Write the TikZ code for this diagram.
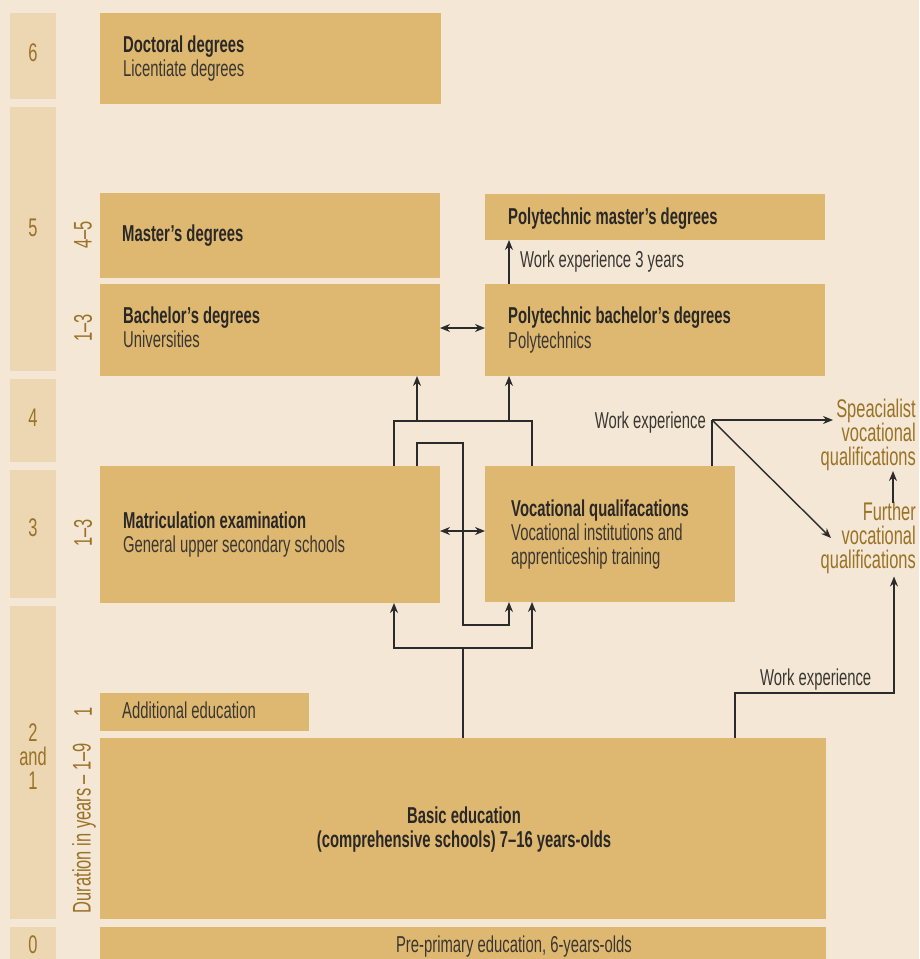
\documentclass[tikz,border=0pt]{standalone}
\usepackage{fontspec}
\setmainfont[FakeStretch=0.645]{Liberation Sans}
\usetikzlibrary{arrows.meta}
\definecolor{bgc}{HTML}{F4E7D5}
\definecolor{colc}{HTML}{ECD7B2}
\definecolor{boxc}{HTML}{DEB870}
\definecolor{goldc}{HTML}{9A7226}
\definecolor{darkc}{HTML}{2A2826}
\definecolor{txtc}{HTML}{3A3632}
\definecolor{linec}{HTML}{2B2B2B}
\begin{document}
\begin{tikzpicture}[x=1pt,y=-1pt,
  colbox/.style={fill=colc,draw=none,anchor=north west,inner sep=0pt,outer sep=0pt},
  box/.style={fill=boxc,draw=none,anchor=north west,inner sep=0pt,outer sep=0pt},
  hd/.style={font=\fontsize{23}{24}\selectfont\bfseries,text=darkc,inner sep=0pt,anchor=base west},
  tx/.style={font=\fontsize{23}{24}\selectfont,text=txtc,inner sep=0pt,anchor=base west},
  gl/.style={font=\fontsize{25.5}{24}\selectfont,text=goldc,inner sep=0pt},
  ln/.style={draw=linec,line width=1.4pt},
  arr/.style={ln,-{Stealth[length=10pt,width=8pt]}},
  darr/.style={ln,{Stealth[length=10pt,width=8pt]}-{Stealth[length=10pt,width=8pt]}}]
\fill[bgc] (0,0) rectangle (919,959);
\useasboundingbox (0,0) rectangle (919,959);
% left column
\node[colbox,minimum width=46pt,minimum height=86pt] (c6) at (10,13) {};
\node[colbox,minimum width=46pt,minimum height=264pt] (c5) at (10,107) {};
\node[colbox,minimum width=46pt,minimum height=83pt] (c4) at (10,379) {};
\node[colbox,minimum width=46pt,minimum height=128pt] (c3) at (10,470) {};
\node[colbox,minimum width=46pt,minimum height=313pt] (c21) at (10,606) {};
\node[colbox,minimum width=46pt,minimum height=32pt] (c0) at (10,927) {};
\node[gl] (n6) at (33,53) {6};
\node[gl] (n5) at (33,228) {5};
\node[gl] (n4) at (33,418) {4};
\node[gl] (n3) at (33,528) {3};
\node[gl,align=center] (n21) at (33,757) {2\\and\\1};
\node[gl] (n0) at (33,945) {0};
% durations
\node[gl,rotate=90] (d45) at (83,235) {4–5};
\node[gl,rotate=90] (d13a) at (83,328) {1–3};
\node[gl,rotate=90] (d13b) at (83,533) {1–3};
\node[gl,rotate=90] (d1) at (83,712) {1};
\node[gl,rotate=90] (ddur) at (84,828) {Duration in years – 1–9};
% boxes
\node[box,minimum width=341pt,minimum height=91pt] (doc) at (100,13) {};
\node[box,minimum width=340pt,minimum height=85pt] (mast) at (100,193) {};
\node[box,minimum width=340pt,minimum height=92pt] (bach) at (100,284) {};
\node[box,minimum width=340pt,minimum height=46pt] (pmast) at (485,194) {};
\node[box,minimum width=340pt,minimum height=92pt] (pbach) at (485,284) {};
\node[box,minimum width=340pt,minimum height=137pt] (matric) at (100,466) {};
\node[box,minimum width=250pt,minimum height=136pt] (voc) at (485,466) {};
\node[box,minimum width=209pt,minimum height=38pt] (add) at (100,693) {};
\node[box,minimum width=726pt,minimum height=181pt] (basic) at (100,738) {};
\node[box,minimum width=726pt,minimum height=32pt] (pre) at (100,927) {};
% texts
\node[hd] (tdoc) at (123,52) {Doctoral degrees};
\node[tx] (tlic) at (123,76) {Licentiate degrees};
\node[hd] (tmast) at (122,241) {Master’s degrees};
\node[hd] (tbach) at (123,323) {Bachelor’s degrees};
\node[tx] (tuni) at (123,347) {Universities};
\node[hd] (tpmast) at (508,224) {Polytechnic master’s degrees};
\node[hd] (tpbach) at (508,323) {Polytechnic bachelor’s degrees};
\node[tx] (tpoly) at (508,348) {Polytechnics};
\node[tx] (twe3) at (520,267) {Work experience 3 years};
\node[hd] (tvoc) at (511,516) {Vocational qualifacations};
\node[tx] (tvoc2) at (511,540) {Vocational institutions and};
\node[tx] (tvoc3) at (511,564) {apprenticeship training};
\node[hd] (tmat) at (123,528) {Matriculation examination};
\node[tx] (tmat2) at (123,552) {General upper secondary schools};
\node[tx] (tadd) at (122,718) {Additional education};
\node[hd,anchor=base] (tbas) at (464,823) {Basic education};
\node[hd,anchor=base] (tbas2) at (464,847) {(comprehensive schools) 7–16 years-olds};
\node[tx,anchor=base] (tpre) at (514,952) {Pre-primary education, 6-years-olds};
\node[tx,anchor=base east] (twe1) at (706,428) {Work experience};
\node[tx] (twe2) at (760,685) {Work experience};
\node[gl,align=right,anchor=base east] (spec) at (916,465) {Speacialist\\vocational\\qualifications};
\node[gl,align=right,anchor=base east] (furth) at (916,568) {Further\\vocational\\qualifications};
% connectors
\draw[arr] (pbach.north -| 509,0) -- (pmast.south -| 509,0);
\draw[darr] (bach.east |- 0,328) -- (pbach.west |- 0,328);
\draw[darr] (matric.east |- 0,531) -- (voc.west |- 0,531);
\coordinate (ja) at (394,421);
\coordinate (jb) at (532,421);
\coordinate (ka) at (417,421);
\coordinate (kb) at (509,421);
\draw[ln] (matric.north -| ja) -- (ja) -- (jb) -- (voc.north -| jb);
\draw[arr] (ka) -- (bach.south -| ka);
\draw[arr] (kb) -- (pbach.south -| kb);
\coordinate (l1) at (417,443);
\coordinate (l2) at (463,443);
\coordinate (l3) at (463,625);
\coordinate (l4) at (509,625);
\draw[arr] (matric.north -| l1) -- (l1) -- (l2) -- (l3) -- (l4) -- (voc.south -| l4);
\coordinate (m0) at (463,648);
\coordinate (ma) at (394,648);
\coordinate (mb) at (532,648);
\draw[ln] (basic.north -| m0) -- (m0);
\draw[arr] (m0) -- (ma) -- (matric.south -| ma);
\draw[arr] (m0) -- (mb) -- (voc.south -| mb);
\coordinate (w) at (712,420);
\coordinate (sa) at (833,420);
\coordinate (fa) at (831,538);
\draw[ln] (voc.north -| w) -- (w);
\draw[arr] (w) -- (sa);
\draw[arr] (w) -- (fa);
\coordinate (fu) at (893,503);
\coordinate (su) at (893,471);
\draw[arr] (fu) -- (su);
\coordinate (b1) at (735,693);
\coordinate (b2) at (894,693);
\draw[arr,shorten >=3pt] (basic.north -| b1) -- (b1) -- (b2) -- (furth.south -| b2);
\end{tikzpicture}
\end{document}
